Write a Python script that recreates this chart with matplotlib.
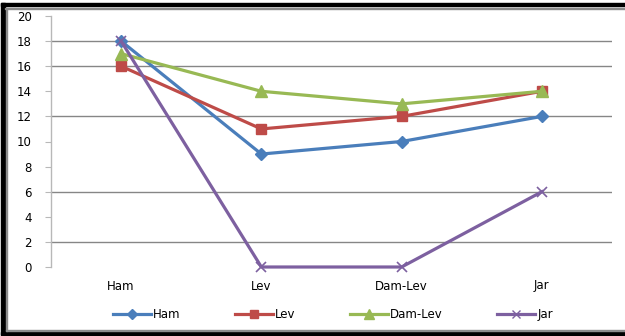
import matplotlib
matplotlib.use("Agg")
import matplotlib.pyplot as plt
from matplotlib.lines import Line2D
from matplotlib.patches import Rectangle

categories = ["Ham", "Lev", "Dam-Lev", "Jar"]
ham = [18, 9, 10, 12]
lev = [16, 11, 12, 14]
dam_lev = [17, 14, 13, 14]
jar = [18, 0, 0, 6]
yticks = [0, 2, 4, 6, 8, 10, 12, 14, 16, 18, 20]
grid_levels = [2, 6, 12, 16, 18]

series = [
    ("Ham", ham, "#4A7EBB", "D", 6),
    ("Lev", lev, "#BE4B48", "s", 7.5),
    ("Dam-Lev", dam_lev, "#98B954", "^", 8),
    ("Jar", jar, "#7D60A0", "x", 7),
]

plt.rcParams["font.family"] = ["DejaVu Sans"]

fig = plt.figure(figsize=(6.25, 3.36), dpi=100)
fig.patch.set_facecolor("white")

# frame around the figure
W, H = 625, 336
def rect(x0, y0, x1, y1, color):
    fig.patches.append(Rectangle((x0 / W, 1 - y1 / H), (x1 - x0) / W, (y1 - y0) / H,
                                 transform=fig.transFigure, color=color, zorder=0))
rect(1, 3, 625, 6, "black")
rect(1, 3, 5, 335, "black")
rect(1, 332, 625, 335, "black")
rect(5, 8, 625, 9, "#8c8c8c")
rect(6, 8, 7, 331, "#8c8c8c")
rect(6, 330, 625, 331, "#8c8c8c")

ax = fig.add_axes([51 / W, 1 - 267 / H, (612 - 51) / W, (267 - 16) / H])
x = list(range(len(categories)))
for name, vals, color, marker, ms in series:
    ax.plot(x, vals, color=color, lw=2.3, marker=marker, markersize=ms,
            markeredgecolor=color, markeredgewidth=1.2 if marker == "x" else 1,
            label=name, zorder=3, clip_on=False)

for g in grid_levels:
    ax.axhline(g, color="#868686", lw=1, zorder=1)

ax.set_xlim(-0.5, len(categories) - 0.5)
ax.set_ylim(0, 20)
ax.set_yticks(yticks)
ax.set_xticks(x)
ax.set_xticklabels(categories)
for s in ["top", "right", "bottom"]:
    ax.spines[s].set_visible(False)
ax.spines["left"].set_color("#b8b8b8")
ax.spines["left"].set_linewidth(1)
ax.tick_params(axis="y", length=4, color="#b8b8b8", labelsize=8.5, pad=10)
ax.tick_params(axis="x", length=0, labelsize=8.5, pad=9)

handles = [Line2D([], [], color=c, lw=2.3, marker=m, markersize=ms * 0.85,
                  markeredgecolor=c) for _, _, c, m, ms in series]
fig.legend(handles, [s[0] for s in series], loc="center", ncol=4,
           bbox_to_anchor=(0.533, 0.063), frameon=False, fontsize=8.5,
           handlelength=3.2, columnspacing=4.6, handletextpad=0.2)

fig.savefig("out.png", dpi=100, facecolor="white")
